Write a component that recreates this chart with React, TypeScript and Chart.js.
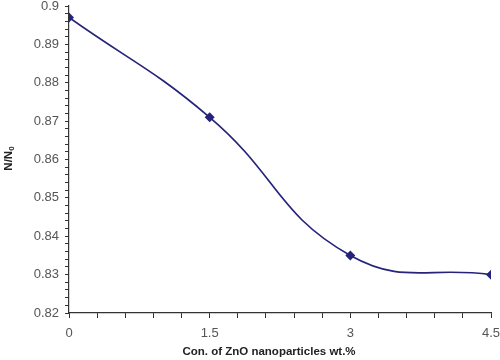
import React, { useEffect, useRef } from "react";
import { Chart, registerables } from "chart.js";

Chart.register(...registerables);

const concentrations = [0, 1.5, 3, 4.5];
const ratioValues = [0.897, 0.871, 0.835, 0.83];
const yTickMin = 0.82;
const yTickMax = 0.9;
const xTickMin = 0;
const xTickMax = 4.5;
const xTitle = "Con. of ZnO nanoparticles wt.%";
const yTitleMain = "N/N";
const yTitleSub = "0";

const FONT = "'Liberation Sans', Arial, sans-serif";

const titlePlugin = {
  id: "titles",
  afterDraw(chart: any) {
    const c = chart.ctx;
    const area = chart.chartArea;
    c.save();
    c.fillStyle = "#222";
    // x title
    c.font = `bold 11.5px ${FONT}`;
    c.textAlign = "center";
    c.textBaseline = "middle";
    c.fillText(xTitle, 269, 352);
    // y title rotated
    c.translate(9, (area.top + area.bottom) / 2 - 1);
    c.rotate(-Math.PI / 2);
    c.font = `bold 11.5px ${FONT}`;
    const w1 = c.measureText(yTitleMain).width;
    c.font = `bold 8px ${FONT}`;
    const w2 = c.measureText(yTitleSub).width;
    const total = w1 + w2;
    c.textAlign = "left";
    c.font = `bold 11.5px ${FONT}`;
    c.fillText(yTitleMain, -total / 2, 0);
    c.font = `bold 8px ${FONT}`;
    c.fillText(yTitleSub, -total / 2 + w1, 3);
    c.restore();
  },
};

export default function App() {
  const ref = useRef<HTMLCanvasElement>(null);
  useEffect(() => {
    const ctx = ref.current!;
    const chart = new Chart(ctx, {
      type: "scatter",
      data: {
        datasets: [
          {
            data: concentrations.map((x, i) => ({ x, y: ratioValues[i] })),
            showLine: true,
            borderColor: "#25247a",
            backgroundColor: "#25247a",
            borderWidth: 1.7,
            pointStyle: "rectRot",
            pointRadius: 5,
            pointBorderWidth: 0,
            tension: 0.45,
            cubicInterpolationMode: "default",
          },
        ],
      },
      options: {
        animation: false,
        responsive: false,
        maintainAspectRatio: false,
        layout: { padding: { left: 0, top: 6, right: 9, bottom: 0 } },
        plugins: { legend: { display: false }, tooltip: { enabled: false } },
        scales: {
          x: {
            type: "linear",
            min: xTickMin,
            max: xTickMax,
            afterFit: (s: any) => {
              s.height = 47;
              s.paddingLeft = 0;
              s.paddingRight = 0;
            },
            border: { display: true, color: "#333", width: 1.2 },
            grid: { drawOnChartArea: false, drawTicks: true, tickLength: 5, color: "#333" },
            ticks: {
              stepSize: 0.3,
              autoSkip: false,
              maxRotation: 0,
              padding: 8,
              color: "#555",
              font: { family: FONT, size: 13 },
              callback: (v: any) => {
                const n = Number(v);
                const r = n / 1.5;
                return Math.abs(r - Math.round(r)) < 1e-6 ? String(+n.toFixed(2)) : "";
              },
            },
          },
          y: {
            min: yTickMin,
            max: yTickMax,
            afterFit: (s: any) => {
              s.width = 69;
              s.paddingTop = 0;
              s.paddingBottom = 0;
            },
            border: { display: true, color: "#333", width: 1.2 },
            grid: { drawOnChartArea: false, drawTicks: true, tickLength: 4, color: "#333" },
            ticks: {
              stepSize: 0.002,
              autoSkip: false,
              padding: 6,
              color: "#555",
              font: { family: FONT, size: 13 },
              callback: (v: any) => {
                const n = Number(v);
                const r = n / 0.01;
                return Math.abs(r - Math.round(r)) < 1e-4 ? String(+n.toFixed(2)) : "";
              },
            },
          },
        },
      },
      plugins: [titlePlugin],
    });
    return () => chart.destroy();
  }, []);
  return (
    <div style={{ position: "fixed", left: 0, top: 0, width: 500, height: 360, background: "#fff" }}>
      <canvas ref={ref} width={500} height={360} />
    </div>
  );
}
